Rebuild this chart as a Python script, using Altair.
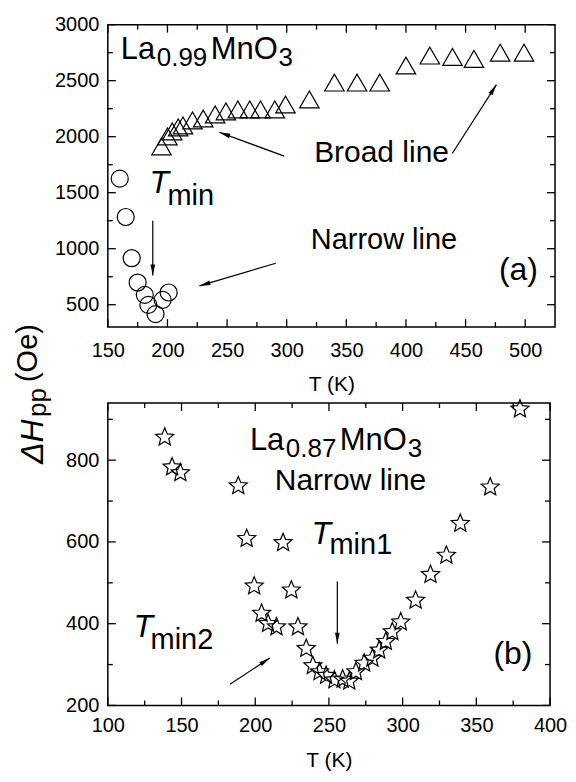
import math
import altair as alt
import pandas as pd

# ---------------- data ----------------
# panel (a): La0.99MnO3
broad_T = [195, 200, 204, 209, 213, 221, 230, 240, 249, 259, 269, 278, 290, 299,
           319, 340, 359, 378, 400, 420, 439, 457, 479, 499]
broad_H = [1913, 2002, 2047, 2082, 2100, 2145, 2162, 2198, 2225, 2243, 2243, 2243, 2243, 2287,
           2332, 2483, 2483, 2483, 2635, 2724, 2712, 2694, 2750, 2750]
narrow_T = [160, 165, 170, 175, 181, 184, 190, 196, 201]
narrow_H = [1625, 1283, 915, 698, 588, 499, 416, 543, 609]

# panel (b): La0.87MnO3 (narrow line)
star_T = [138.6, 143.6, 149.2, 188.5, 194.2, 218.9, 199.3, 224.5, 204.3, 208.7, 214.4, 229.0,
          234.6, 239.1, 243.6, 248.1, 253.7, 259.3, 263.8, 268.3, 273.9, 279.5, 284.1, 288.6,
          293.0, 298.7, 308.8, 318.9, 329.7, 339.1, 359.4, 379.6]
star_H = [856, 783, 769, 737, 608, 598, 492, 482, 425, 400, 392, 392,
          339, 297, 282, 273, 262, 264, 259, 282, 303, 315, 335, 356,
          380, 404, 457, 520, 567, 645, 734, 925]

# axes
a_xdom, a_ydom = [150, 525], [300, 3000]
b_xdom, b_ydom = [100, 400], [200, 940]
a_xmaj = [150, 200, 250, 300, 350, 400, 450, 500]
a_xmin = [175, 225, 275, 325, 375, 425, 475]
a_ymaj = [500, 1000, 1500, 2000, 2500, 3000]
a_ymin = [750, 1250, 1750, 2250, 2750]
b_xmaj = [100, 150, 200, 250, 300, 350, 400]
b_xmin = [125, 175, 225, 275, 325, 375]
b_ymaj = [200, 400, 600, 800]
b_ymin = [300, 500, 700, 900]

# arrows (start T, start H, end T, end H)
a_arrows = [(187.7, 1249, 187.7, 760), (290.9, 870, 226.8, 668),
            (297.9, 1826, 243.5, 2040), (438.8, 1850, 475.9, 2465)]
b_arrows = [(255.7, 503, 255.7, 351), (182.9, 252, 209.9, 316)]

FONT = "Liberation Sans"
WA, HA = 448, 303
WB, HB = 443, 303
MAJ, MIN = 8, 5


def make_enc(xdom, ydom, yvals, xvals, xlabpad, xtitlepad, ylabpad):
    def xs(field):
        return alt.X(f"{field}:Q", scale=alt.Scale(domain=xdom, nice=False, zero=False),
                     axis=alt.Axis(values=xvals, format="d", title="T (K)", labelPadding=xlabpad,
                                   titlePadding=xtitlepad, labelOverlap=False, labelFlush=False))

    def ys(field):
        return alt.Y(f"{field}:Q", scale=alt.Scale(domain=ydom, nice=False, zero=False),
                     axis=alt.Axis(values=yvals, format="d", title=None, labelPadding=ylabpad,
                                   labelOverlap=False, labelFlush=False))
    return xs, ys


def tick_layers(xs, ys, W, H, xmaj, xmin, ymaj, ymin):
    out = []
    for vals, ln in ((xmaj, MAJ), (xmin, MIN)):
        base = alt.Chart(pd.DataFrame({"v": vals})).mark_rule(color="black", strokeWidth=1.3)
        out.append(base.encode(x=xs("v"), y=alt.value(H), y2=alt.value(H - ln)))
        out.append(base.encode(x=xs("v"), y=alt.value(0), y2=alt.value(ln)))
    for vals, ln in ((ymaj, MAJ), (ymin, MIN)):
        base = alt.Chart(pd.DataFrame({"v": vals})).mark_rule(color="black", strokeWidth=1.3)
        out.append(base.encode(y=ys("v"), x=alt.value(0), x2=alt.value(ln)))
        out.append(base.encode(y=ys("v"), x=alt.value(W), x2=alt.value(W - ln)))
    return out


HEAD = "M0,0L0.36,1.7L-0.36,1.7Z"


def arrow_layers(xs, ys, arrows, xdom, ydom, W, H):
    rows = []
    for (t1, h1, t2, h2) in arrows:
        dx = (t2 - t1) / (xdom[1] - xdom[0]) * W
        dy = -(h2 - h1) / (ydom[1] - ydom[0]) * H
        ang = math.degrees(math.atan2(dx, -dy)) % 360
        rows.append({"T1": t1, "H1": h1, "T2": t2, "H2": h2, "ang": ang})
    df = pd.DataFrame(rows)
    shaft = alt.Chart(df).mark_rule(color="black", strokeWidth=1.2).encode(
        x=xs("T1"), x2="T2", y=ys("H1"), y2="H2")
    head = alt.Chart(df).mark_point(shape=HEAD, filled=True, color="black", opacity=1,
                                    size=170, strokeWidth=0).encode(
        x=xs("T2"), y=ys("H2"), angle=alt.Angle("ang:Q", scale=None))
    return [shaft, head]


def txt(xs, ys, T, H, s, size, dx=0, dy=0, italic=False):
    df = pd.DataFrame({"T": [T], "H": [H], "s": [s]})
    return alt.Chart(df).mark_text(align="left", baseline="alphabetic", font=FONT, fontSize=size,
                                   fontStyle="italic" if italic else "normal", dx=dx, dy=dy,
                                   color="black").encode(x=xs("T"), y=ys("H"), text="s:N")


def formula(xs, ys, T, H, sub):
    return [txt(xs, ys, T, H, "La", 31),
            txt(xs, ys, T, H, sub, 26, dx=36, dy=7),
            txt(xs, ys, T, H, "MnO", 31, dx=90),
            txt(xs, ys, T, H, "3", 26, dx=158, dy=7)]


def star_path(r_in=0.45):
    pts = []
    for k in range(10):
        a = math.radians(-90 + 36 * k)
        r = 1.0 if k % 2 == 0 else r_in
        pts.append((r * math.cos(a), r * math.sin(a)))
    return "M" + "L".join(f"{x:.3f},{y:.3f}" for x, y in pts) + "Z"


# ---------------- panel (a) ----------------
xa, ya = make_enc(a_xdom, a_ydom, a_ymaj, a_xmaj, 13, 14, 9)
tri = alt.Chart(pd.DataFrame({"T": broad_T, "H": broad_H})).mark_point(
    shape="triangle-up", size=380, filled=False, color="black", opacity=1, strokeWidth=1.2
).encode(x=xa("T"), y=ya("H"))
circ = alt.Chart(pd.DataFrame({"T": narrow_T, "H": narrow_H})).mark_point(
    shape="circle", size=290, filled=False, color="black", opacity=1, strokeWidth=1.2
).encode(x=xa("T"), y=ya("H"))

one = pd.DataFrame({"a": [0]})


def ylab(x, y, s, size, italic=False):
    return alt.Chart(one).mark_text(align="left", baseline="alphabetic", angle=270, font=FONT,
                                    fontSize=size, fontStyle="italic" if italic else "normal",
                                    color="black", text=s).encode(x=alt.value(x), y=alt.value(y))


a_layers = (tick_layers(xa, ya, WA, HA, a_xmaj, a_xmin, a_ymaj, a_ymin)
            + arrow_layers(xa, ya, a_arrows, a_xdom, a_ydom, WA, HA)
            + [tri, circ]
            + formula(xa, ya, 160.9, 2694, "0.99")
            + [txt(xa, ya, 184.9, 1500, "T", 32, italic=True),
               txt(xa, ya, 184.9, 1500, "min", 29, dx=18, dy=12),
               txt(xa, ya, 323, 1773, "Broad line", 30),
               txt(xa, ya, 320.2, 995, "Narrow line", 29),
               txt(xa, ya, 478, 719, "(a)", 32),
               ylab(-65, 440, "ΔH", 32, italic=True),
               ylab(-62, 393, "pp", 26),
               ylab(-71, 358, "(Oe)", 29)])
top = alt.layer(*a_layers).properties(width=WA, height=HA)

# ---------------- panel (b) ----------------
xb, yb = make_enc(b_xdom, b_ydom, b_ymaj, b_xmaj, 10, 14, 9)
stars = alt.Chart(pd.DataFrame({"T": star_T, "H": star_H})).mark_point(
    shape=star_path(), size=360, filled=False, color="black", opacity=1, strokeWidth=1.2
).encode(x=xb("T"), y=yb("H"))

b_layers = (tick_layers(xb, yb, WB, HB, b_xmaj, b_xmin, b_ymaj, b_ymin)
            + arrow_layers(xb, yb, b_arrows, b_xdom, b_ydom, WB, HB)
            + [stars]
            + formula(xb, yb, 196.4, 826, "0.87")
            + [txt(xb, yb, 213.3, 727, "Narrow line", 30),
               txt(xb, yb, 238.2, 595.6, "T", 32, italic=True),
               txt(xb, yb, 238.2, 595.6, "min1", 29, dx=18, dy=10),
               txt(xb, yb, 117.5, 368.5, "T", 32, italic=True),
               txt(xb, yb, 117.5, 368.5, "min2", 29, dx=17, dy=12),
               txt(xb, yb, 361.6, 302.6, "(b)", 32)])
bottom = alt.layer(*b_layers).properties(width=WB, height=HB)

chart = alt.vconcat(top, bottom, spacing=76, bounds="flush").properties(
    padding={"left": 5, "top": 5, "right": 0, "bottom": 0}
).configure_view(stroke="black", strokeWidth=1.5).configure_axis(
    labelFont=FONT, labelFontSize=20, labelColor="black",
    titleFont=FONT, titleFontSize=21, titleFontWeight="normal", titleColor="black",
    grid=False, ticks=False, domain=False
)

chart.save("out.html", embed_options={"renderer": "svg", "actions": False})
